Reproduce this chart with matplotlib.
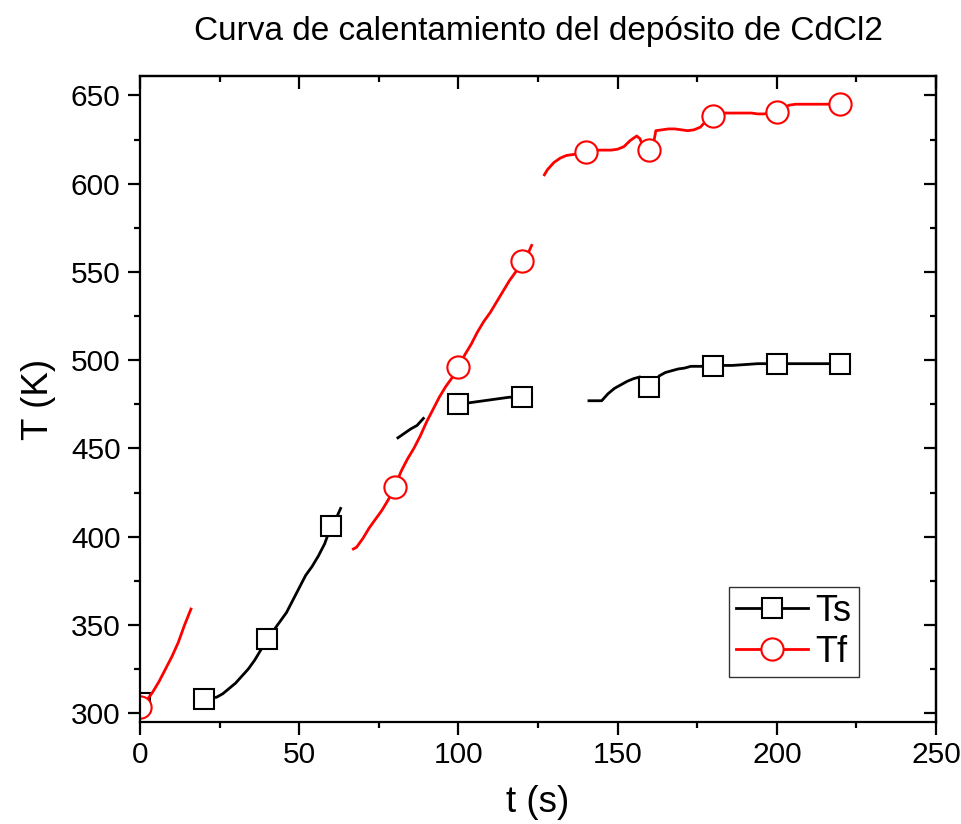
import matplotlib
matplotlib.use('Agg')
import matplotlib.pyplot as plt
import numpy as np

plt.rcParams['font.family'] = ['Liberation Sans', 'DejaVu Sans']

nan = np.nan

# temperatura del sustrato (Ts); nan separa los tramos registrados
ts_time = [0, nan,
           20, 22, 24, 26, 28, 30, 32, 34, 36, 38, 40, 42, 44, 46, 48, 50,
           52, 54, 56, 58, 60, 62, 63, nan,
           81, 83, 85, 87, 89, nan,
           100, 102, 104, 106, 108, 110, 112, 114, 116, 118, 120, nan,
           141, 143, 145, 147, 149, 151, 153, 155, 157, 158, 160, 162, 163,
           165, 167, 169, 171, 173, 176, 178, 180, 182, 186, 190, 194, 198,
           200, 205, 210, 215, 220]
ts_temp = [305.5, nan,
           308, 308.5, 309, 311, 314, 317, 321, 325, 330, 336, 342, 347, 352,
           357, 364, 371, 378, 383, 389, 396, 406, 412, 416, nan,
           456, 458.5, 461, 463, 467, nan,
           475, 475.5, 476, 476.5, 477, 477.5, 478, 478.5, 479, 479, 479, nan,
           477, 477, 477, 481, 484, 486, 488, 489.5, 490.5, 488, 485, 485.5,
           491, 493, 494, 495, 495.5, 496.5, 496.5, 496.5, 496.5, 497, 497,
           497.5, 498, 498, 498, 498, 498, 498, 498]

# temperatura del filamento (Tf)
tf_time = [0, 2, 4, 6, 8, 10, 12, 14, 16, nan,
           67, 68, 70, 72, 74, 76, 78, 80, 82, 84, 86, 88, 90, 92, 94, 96,
           98, 100, 102, 104, 106, 108, 110, 112, 114, 116, 118, 120, 122,
           123, nan,
           127, 128, 130, 132, 134, 136, 138, 140, 142, 144, 146, 148, 150,
           152, 154, 156, 157, 158, 160, 161, 162, 164, 166, 168, 170, 172,
           174, 176, 178, 180, 182, 184, 186, 188, 190, 192, 194, 196, 198,
           200, 202, 204, 206, 210, 214, 218, 220]
tf_temp = [303.5, 307, 312, 318, 325, 332, 340, 350, 359, nan,
           393, 394, 399, 405, 410, 415, 421, 428, 437, 444, 450, 457, 465,
           472, 479, 485, 490, 496, 503, 509, 516, 522, 527, 533, 539, 545,
           550, 556, 561, 565, nan,
           605, 608, 612, 614.5, 616, 616.5, 617, 618, 618.5, 619, 619, 619,
           619.5, 621, 624.5, 627, 625.5, 621, 619, 620, 630, 630.5, 631, 631,
           630.5, 630, 630.5, 632, 636, 638.5, 640, 640, 640, 640, 640, 640,
           639.5, 639.5, 640, 640.5, 643, 644.5, 645, 645, 645, 645, 645]


def marker_idx(t):
    # un símbolo cada 20 s
    t = np.asarray(t)
    return [i for i, v in enumerate(t) if not np.isnan(v) and v % 20 == 0]


fig = plt.figure(figsize=(9.61, 8.24), dpi=100)
ax = fig.add_axes([0.1457, 0.1238, 0.8283, 0.7840])

ax.plot(ts_time, ts_temp, color='black', lw=2.0, marker='s', ms=14,
        mfc='white', mec='black', mew=1.5, markevery=marker_idx(ts_time),
        label='Ts')
ax.plot(tf_time, tf_temp, color='red', lw=2.0, marker='o', ms=16,
        mfc='white', mec='red', mew=1.5, markevery=marker_idx(tf_time),
        label='Tf')

ax.set_xlim(0, 250)
ax.set_ylim(295, 661)
ax.set_xticks(np.arange(0, 251, 50))
ax.set_yticks(np.arange(300, 651, 50))
ax.set_xticks(np.arange(25, 250, 50), minor=True)
ax.set_yticks(np.arange(325, 651, 50), minor=True)

for side in ax.spines.values():
    side.set_linewidth(1.6)

ax.tick_params(which='both', direction='out', width=1.6, labelsize=21.5,
               top=False, right=False)
ax.tick_params(which='major', length=9, pad=5)
ax.tick_params(which='minor', length=4.5)

# marcas interiores en los ejes superior y derecho
ax_top = ax.secondary_xaxis('top')
ax_top.set_xticks(np.arange(0, 251, 50))
ax_top.set_xticks(np.arange(25, 250, 50), minor=True)
ax_top.tick_params(which='both', direction='in', width=1.6, labeltop=False)
ax_top.tick_params(which='major', length=9)
ax_top.tick_params(which='minor', length=4.5)
ax_top.spines['top'].set_linewidth(1.6)

ax_right = ax.secondary_yaxis('right')
ax_right.set_yticks(np.arange(300, 651, 50))
ax_right.set_yticks(np.arange(325, 651, 50), minor=True)
ax_right.tick_params(which='both', direction='in', width=1.6, labelright=False)
ax_right.tick_params(which='major', length=9)
ax_right.tick_params(which='minor', length=4.5)
ax_right.spines['right'].set_linewidth(1.6)

ax.set_xlabel('t (s)', fontsize=26.5, labelpad=11)
ax.set_ylabel('T (K)', fontsize=26.5, labelpad=11)
ax.set_title('Curva de calentamiento del depósito de CdCl2', fontsize=24,
             pad=26)

leg = ax.legend(loc='lower right', bbox_to_anchor=(0.903, 0.07), fontsize=26,
                frameon=True, fancybox=False, edgecolor='black',
                handlelength=2.0, handletextpad=0.2, borderpad=0.2,
                labelspacing=0.15, borderaxespad=0)
leg.get_frame().set_linewidth(1.0)

fig.savefig('out.png', dpi=100)
